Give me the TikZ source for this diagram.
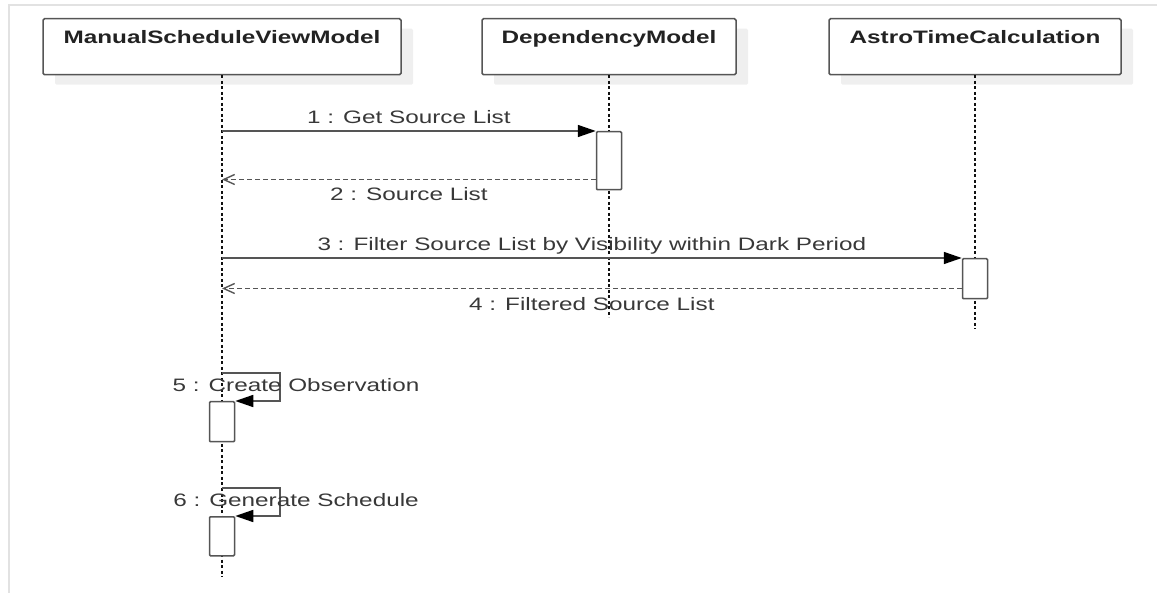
\documentclass[tikz,border=0pt]{standalone}
\usepackage{fontspec}
\setmainfont{Liberation Sans}[FakeStretch=1.35]
\usepackage{tikz}
\usetikzlibrary{arrows.meta,positioning,calc,shadows}
\definecolor{ink}{HTML}{222222}
\definecolor{wire}{HTML}{555555}
\definecolor{lifeink}{HTML}{111111}
\definecolor{shade}{HTML}{EFEFEF}
\definecolor{framegray}{HTML}{E2E2E2}
\tikzset{
  every node/.style={font=\fontsize{18}{20}\selectfont,text=ink},
  actor/.style={draw=wire,line width=1.5pt,rounded corners=1.5pt,fill=white,anchor=north,
    font=\fontsize{18}{20}\selectfont\bfseries,inner xsep=0pt,inner ysep=0pt,text height=25pt,text depth=31pt,
    drop shadow={shadow xshift=12pt,shadow yshift=-10pt,fill=shade,opacity=1}},
  life/.style={draw=lifeink,line width=1.3pt,dash pattern=on 3pt off 2.5pt},
  act/.style={draw=wire,line width=1.5pt,rounded corners=1pt,fill=white,minimum width=25pt,inner sep=0pt,anchor=north},
  call/.style={-{Triangle[length=18pt,width=12pt,color=black]},line width=1.6pt,draw=wire},
  reply/.style={-{Straight Barb[length=11pt,width=10pt,line width=1.4pt,color=wire]},line width=1.6pt,draw=wire,dash pattern=on 5pt off 3pt},
  msg/.style={inner sep=1pt,text height=13pt,text depth=4pt,text=ink!90},
  edge line/.style={draw=framegray,line width=2pt}
}
\begin{document}
\begin{tikzpicture}[x=1pt,y=1pt]
  \useasboundingbox (0,0) rectangle (1157,-593);
  \draw[edge line] (1157,-5) -- (8.5,-5) -- (8.5,-593);

  \node[actor,minimum width=358pt] (mvm) at (222,-18) {ManualScheduleViewModel};
  \node[actor,minimum width=254pt] (dep) at (609,-18) {DependencyModel};
  \node[actor,minimum width=292pt] (astro) at (975,-18) {AstroTimeCalculation};

  \draw[life] (mvm.south) -- ++(0,-501);
  \draw[life] (dep.south) -- ++(0,-242);
  \draw[life] (astro.south) -- ++(0,-254);

  \node[act,minimum height=58pt] (act1) at (dep.south |- 0,-131) {};
  \node[act,minimum height=40pt] (act3) at (astro.south |- 0,-258) {};
  \node[act,minimum height=40pt] (act5) at (mvm.south |- 0,-401) {};
  \node[act,minimum height=39pt] (act6) at (mvm.south |- 0,-516) {};

  \draw[call] (act1.north west -| mvm) -- node[msg,above=2pt]{1 : Get Source List} (act1.north west);
  \coordinate (ret1) at ([yshift=11pt]act1.south west);
  \draw[reply] (ret1) -- node[msg,below=6pt]{2 : Source List} (ret1 -| mvm);

  \draw[call] (act3.north west -| mvm) -- node[msg,above=2pt]{3 : Filter Source List by Visibility within Dark Period} (act3.north west);
  \coordinate (ret3) at ([yshift=11pt]act3.south west);
  \draw[reply] (ret3) -- node[msg,below=7pt]{4 : Filtered Source List} (ret3 -| mvm);

  \draw[call] ([yshift=28pt]act5.north) -- ++(58,0) -- node[msg,xshift=16pt]{5 : Create Observation} ++(0,-28) -- (act5.north east);
  \draw[call] ([yshift=28pt]act6.north) -- ++(58,0) -- node[msg,xshift=16pt]{6 : Generate Schedule} ++(0,-28) -- (act6.north east);
\end{tikzpicture}
\end{document}
